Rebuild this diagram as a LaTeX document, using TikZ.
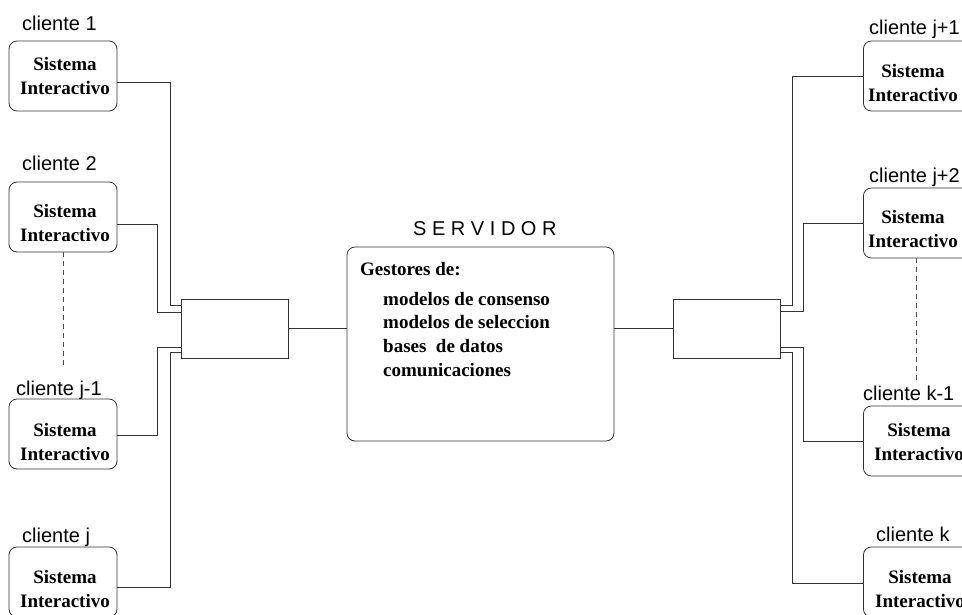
\documentclass[tikz,border=0pt]{standalone}
\usepackage{fontspec}
\setmainfont{Liberation Serif}
\setsansfont{Liberation Sans}
\begin{document}
\begin{tikzpicture}[x=1pt,y=-1pt,
  wire/.style={draw=black!80,line width=0.8pt},
  client/.style={draw=black!80,line width=0.8pt,rounded corners=8pt,
    minimum width=108pt,minimum height=70pt,inner sep=0pt},
  hub/.style={draw=black!80,line width=0.8pt,minimum width=107pt,
    minimum height=59pt,inner sep=0pt},
  systxt/.style={font=\fontsize{19}{24}\selectfont\bfseries,align=center,inner sep=0pt},
  tag/.style={font=\sffamily\fontsize{20}{24}\selectfont,anchor=base west,inner sep=0pt},
  srvtxt/.style={font=\fontsize{19}{24}\selectfont\bfseries,anchor=base west,inner sep=0pt},
  dots/.style={draw=black!70,line width=0.8pt,dash pattern=on 5pt off 4pt}]
\useasboundingbox (0,0) rectangle (962,614);

% left clients
\node[client] (c1)  at (63,76)  {};
\node[client] (c2)  at (63,217) {};
\node[client] (cj1) at (63,434) {};
\node[client] (cj)  at (63,582) {};
\node[systxt] (t1)  at (65,76)  {Sistema\\Interactivo};
\node[systxt] (t2)  at (65,223) {Sistema\\Interactivo};
\node[systxt] (tj1) at (65,442) {Sistema\\Interactivo};
\node[systxt] (tj)  at (65,589) {Sistema\\Interactivo};
\node[tag] (l1)  at (22,30)  {cliente 1};
\node[tag] (l2)  at (22,170) {cliente 2};
\node[tag] (lj1) at (16,395) {cliente j-1};
\node[tag] (lj)  at (22,542) {cliente j};

% right clients
\node[client,anchor=west] (r1) at (863,76)  {};
\node[client,anchor=west] (r2) at (863,223) {};
\node[client,anchor=west] (rk1) at (863,441) {};
\node[client,anchor=west] (rk)  at (863,582) {};
\node[systxt] (u1)  at (913,83)  {Sistema\\Interactivo};
\node[systxt] (u2)  at (913,229) {Sistema\\Interactivo};
\node[systxt] (uk1) at (919,442) {Sistema\\Interactivo};
\node[systxt] (uk)  at (920,589) {Sistema\\Interactivo};
\node[tag] (m1)  at (869,34)  {cliente j+1};
\node[tag] (m2)  at (869,182) {cliente j+2};
\node[tag] (mk1) at (863,400) {cliente k-1};
\node[tag] (mk)  at (876,541) {cliente k};

% hubs
\node[hub] (hl) at (234.5,328.5) {};
\node[hub] (hr) at (726.5,328.5) {};

% server
\node[draw=black!80,line width=0.8pt,rounded corners=8pt,minimum width=267pt,
  minimum height=194pt,inner sep=0pt] (srv) at (480.5,344) {};
\node[tag] (stitle) at (413,235) {S E R V I D O R};
\node[srvtxt] (g0) at (360,275) {Gestores de:};
\node[srvtxt] (g1) at (383,305) {modelos de consenso};
\node[srvtxt] (g2) at (383,328) {modelos de seleccion};
\node[srvtxt] (g3) at (383,352) {bases\ \ de datos};
\node[srvtxt] (g4) at (383,376) {comunicaciones};

% links server <-> hubs
\draw[wire] (hl.east) -- (hl.east -| srv.west);
\draw[wire] (srv.east |- hr.west) -- (hr.west);

% left links
\draw[wire] ([yshift=-6pt]c1.east) -| (170,305) -- (hl.west |- 0,305);
\draw[wire] ([yshift=-7pt]c2.east) -| (157,312) -- (hl.west |- 0,312);
\draw[wire] ([yshift=-1pt]cj1.east) -| (157,347) -- (hl.west |- 0,347);
\draw[wire] ([yshift=-5pt]cj.east) -| (170,352) -- (hl.west |- 0,352);

% right links
\draw[wire] (r1.west) -| (792,305) -- (hr.east |- 0,305);
\draw[wire] (r2.west) -| (803,311) -- (hr.east |- 0,311);
\draw[wire] (rk1.west) -| (803,347) -- (hr.east |- 0,347);
\draw[wire] ([yshift=-1pt]rk.west) -| (792,352) -- (hr.east |- 0,352);

% elision marks
\coordinate (dl) at (63,365);
\coordinate (dr) at (916,382);
\draw[dots] (c2.south -| dl) -- (dl);
\draw[dots] (r2.south -| dr) -- (dr);
\end{tikzpicture}
\end{document}
